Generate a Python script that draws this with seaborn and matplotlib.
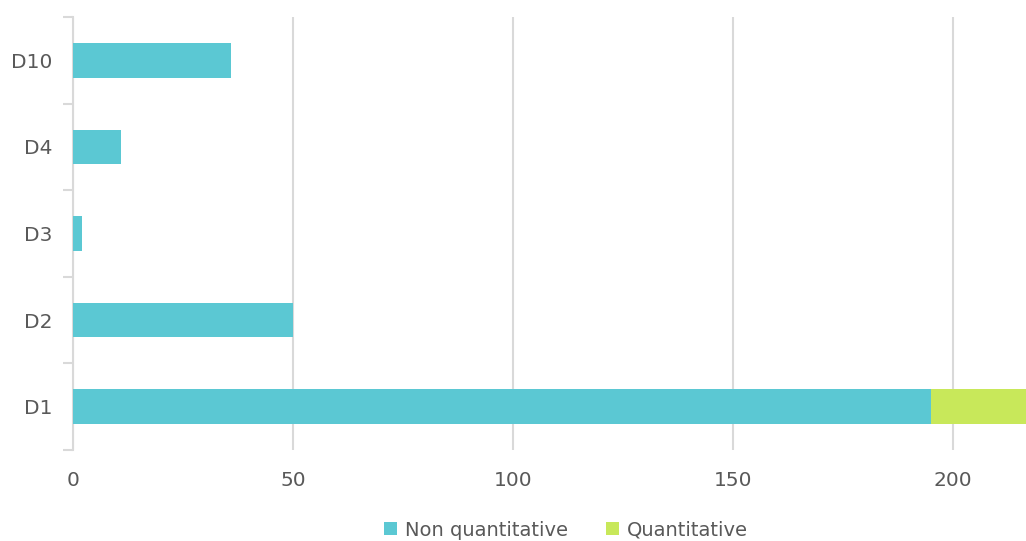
import matplotlib
matplotlib.use("Agg")
import matplotlib.pyplot as plt
from matplotlib.patches import Patch
from matplotlib.ticker import FixedLocator
import seaborn as sns
import pandas as pd
import numpy as np

# Categories listed top to bottom
categories = ["D10", "D4", "D3", "D2", "D1"]
non_quantitative = [36, 11, 2, 50, 195]
quantitative = [0, 0, 0, 0, 22]
x_ticks = [0, 50, 100, 150, 200]

teal = "#5BC8D3"
green = "#C8E85A"
grid_grey = "#D9D9D9"
text_grey = "#595959"

sns.set_theme(style="white")
plt.rcParams["font.family"] = ["DejaVu Sans"]

df = pd.DataFrame({
    "category": categories,
    "non_quant": non_quantitative,
    "total": np.array(non_quantitative) + np.array(quantitative),
})

fig = plt.figure(figsize=(10.26, 5.41), dpi=100)
ax = fig.add_axes([73 / 1026, 1 - 450 / 541, 1 - 73 / 1026, (450 - 17) / 541])

# stacked bars: full total in green, non-quantitative share painted over it
sns.barplot(data=df, x="total", y="category", order=categories, color=green,
            width=0.4, saturation=1, ax=ax, zorder=3, linewidth=0)
sns.barplot(data=df, x="non_quant", y="category", order=categories, color=teal,
            width=0.4, saturation=1, ax=ax, zorder=4, linewidth=0)

ax.set_xlim(0, 216.6)
ax.set_ylim(len(categories) - 0.5, -0.5)
ax.set_xticks(x_ticks)
ax.xaxis.grid(True, color=grid_grey, linewidth=1.5, zorder=0)
ax.yaxis.grid(False)
for s in ["top", "right", "bottom"]:
    ax.spines[s].set_visible(False)
ax.spines["left"].set_color(grid_grey)
ax.spines["left"].set_linewidth(1.5)

ax.set_xlabel("")
ax.set_ylabel("")
ax.tick_params(axis="x", length=0, labelsize=14.5, labelcolor=text_grey, pad=15)
ax.tick_params(axis="y", which="major", length=0, labelsize=14.5, labelcolor=text_grey, pad=15)
ax.yaxis.set_minor_locator(FixedLocator(np.arange(-0.5, len(categories), 1.0)))
ax.tick_params(axis="y", which="minor", length=7, width=1.5, color=grid_grey, left=True)

handles = [Patch(facecolor=teal, edgecolor="none", label="Non quantitative"),
           Patch(facecolor=green, edgecolor="none", label="Quantitative")]
fig.legend(handles=handles, loc="center", bbox_to_anchor=(566 / 1026, 1 - 530 / 541),
           ncol=2, frameon=False, fontsize=14, labelcolor=text_grey,
           handlelength=0.65, handleheight=0.65, handletextpad=0.4, columnspacing=2.0)

fig.savefig("out.png", dpi=100)
